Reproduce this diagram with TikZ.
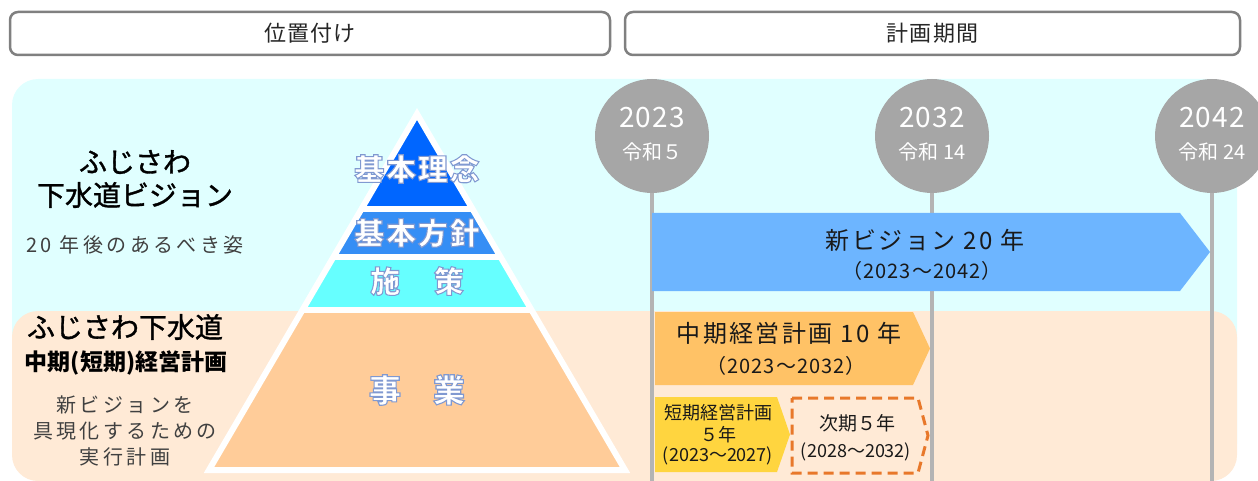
\documentclass[tikz,border=0pt]{standalone}
\usepackage{fontspec}
\setmainfont{Noto Sans CJK JP}
\usetikzlibrary{positioning}
\definecolor{cyanbg}{HTML}{E0FFFF}
\definecolor{peachbg}{HTML}{FFEAD6}
\definecolor{headgray}{HTML}{808080}
\definecolor{pyrone}{HTML}{0066FF}
\definecolor{pyrtwo}{HTML}{358EF5}
\definecolor{pyrthree}{HTML}{66FFFF}
\definecolor{pyrfour}{HTML}{FFCC99}
\definecolor{circgray}{HTML}{A6A6A6}
\definecolor{linegray}{HTML}{B4B4B4}
\definecolor{visionc}{HTML}{6DB5FF}
\definecolor{midc}{HTML}{FFC266}
\definecolor{shortc}{HTML}{FFD53F}
\definecolor{dashc}{HTML}{E8782A}
\definecolor{notegray}{HTML}{404040}

% white letters, bluish edge (stroke colour of the faked bold)
\newcommand\halo[1]{\special{pdf:literal direct 0.50 0.60 0.82 RG}#1}

\begin{document}
\begin{tikzpicture}[x=1pt,y=-1pt]
  \tikzset{
    headbox/.style={draw=headgray,line width=2.5pt,rounded corners=8pt,fill=white,
      minimum height=43pt,text=black!85,font=\fontsize{22}{26}\selectfont\addfontfeature{LetterSpace=5}},
    titletxt/.style={inner sep=0pt,text=black,font=\fontsize{28}{32}\selectfont\addfontfeature{FakeBold=1.2}},
    subtxt/.style={inner sep=0pt,text=black,font=\bfseries\fontsize{23}{27}\selectfont},
    notetxt/.style={inner sep=0pt,text=notegray,align=center,
      font=\fontsize{20}{26}\selectfont\addfontfeature{LetterSpace=17}},
    pyrtxt/.style={inner sep=0pt,text=white,font=\bfseries\fontsize{30}{34}\selectfont\addfontfeature{LetterSpace=6,FakeBold=3.5}},
    pyrgap/.style={white,line width=6pt},
    tline/.style={linegray,line width=4pt},
    yearcirc/.style={circle,fill=circgray,minimum size=114pt,inner sep=0pt},
    yearnum/.style={inner sep=0pt,text=white,font=\fontsize{28}{30}\selectfont\addfontfeature{LetterSpace=4}},
    yearwa/.style={inner sep=0pt,text=white,font=\fontsize{20}{22}\selectfont},
    bigtxt/.style={inner sep=0pt,text=black!90,font=\fontsize{24}{28}\selectfont\addfontfeature{LetterSpace=10}},
    yrtxt/.style={inner sep=0pt,text=black!90,font=\fontsize{20}{24}\selectfont\addfontfeature{LetterSpace=5}},
    smalltxt/.style={inner sep=0pt,text=black!90,font=\fontsize{18}{21}\selectfont},
    dashbox/.style={dashc,line width=3pt,dash pattern=on 10pt off 6pt}
  }
  \useasboundingbox (0,0) rectangle (1258,481);

  % backgrounds
  \fill[cyanbg,rounded corners=26pt] (12,79) rectangle (1237,470);
  \fill[peachbg,rounded corners=26pt] (12,311) rectangle (1237,481);

  \node[headbox,minimum width=600pt] (poshead) at (310,33.5) {位置付け};
  \node[headbox,minimum width=615pt] (planhead) at (932.5,33.5) {計画期間};

  % left side
  \node[titletxt] (visname) at (135,162) {ふじさわ};
  \node[titletxt] (visname2) at (135,195) {下水道ビジョン};
  \node[notetxt] (visnote) at (135,245) {20 年後のあるべき姿};
  \node[titletxt] (midname) at (125,327) {ふじさわ下水道};
  \node[subtxt] (midname2) at (126,363) {中期(短期)経営計画};
  \node[notetxt] (midnote) at (125,431) {新ビジョンを\\具現化するための\\実行計画};

  % pyramid
  \coordinate (pa) at (417,114);
  \coordinate (pl) at (209,470);
  \coordinate (pr) at (625,470);
  \begin{scope}
    \clip (pa) -- (pl) -- (pr) -- cycle;
    \fill[pyrfour] (150,310) rectangle (700,480);
    \fill[pyrthree] (150,256.5) rectangle (700,310);
    \fill[pyrtwo] (150,209.5) rectangle (700,256.5);
    \fill[pyrone] (150,100) rectangle (700,209.5);
    \foreach \yb in {209.5,256.5,310}
      \draw[pyrgap] (150,\yb) -- (700,\yb);
  \end{scope}
  \draw[pyrgap] (pa) -- (pl) -- (pr) -- cycle;

  \node[pyrtxt] (ideal) at (417,169) {\halo{基本理念}};
  \node[pyrtxt] (policy) at (417,233) {\halo{基本方針}};
  \node[pyrtxt] (measure) at (417,281) {\halo{施　策}};
  \node[pyrtxt,font=\bfseries\fontsize{32}{36}\selectfont\addfontfeature{FakeBold=3.5}] (project) at (417,390) {\halo{事　業}};

  % time axis
  \foreach \xc/\yr/\wa [count=\i] in {652/2023/令和５,932/2032/令和 14,1212/2042/令和 24}{
    \coordinate (yt\i) at (\xc,136);
    \coordinate (yb\i) at (\xc,481);
    \draw[tline] (yt\i) -- (yb\i);
    \node[yearcirc] (yc\i) at (yt\i) {};
    \node[yearnum] (yn\i) at ([yshift=18pt]yc\i.center) {\yr};
    \node[yearwa] (yw\i) at ([yshift=-16pt]yc\i.center) {\wa};
  }

  % plans
  \fill[visionc] (652,213) -- (1180,213) -- (1210,252) -- (1180,291) -- (652,291) -- cycle;
  \node[bigtxt] (vision) at (925,240) {新ビジョン 20 年};
  \node[yrtxt] (visionyr) at (922,271) {（2023～2042）};

  \fill[midc] (655,312) -- (913,312) -- (930,348.5) -- (913,385) -- (655,385) -- cycle;
  \node[bigtxt] (midplan) at (789,333) {中期経営計画 10 年};
  \node[yrtxt] (midplanyr) at (786,366) {（2023～2032）};

  \fill[shortc] (655,397) -- (777,397) -- (790,434.5) -- (777,472) -- (655,472) -- cycle;
  \node[smalltxt] (shortplan) at (718,413) {短期経営計画};
  \node[smalltxt] (shortplan2) at (718,435) {５年};
  \node[smalltxt] (shortplanyr) at (718,456) {(2023～2027)};

  \draw[dashbox] (792,398) -- (918,398) -- (928,435.5) -- (918,473) -- (792,473) -- cycle;
  \node[smalltxt,font=\fontsize{19}{22}\selectfont] (nextplan) at (857,423) {次期５年};
  \node[smalltxt] (nextplanyr) at (856,452) {(2028～2032)};
\end{tikzpicture}
\end{document}
